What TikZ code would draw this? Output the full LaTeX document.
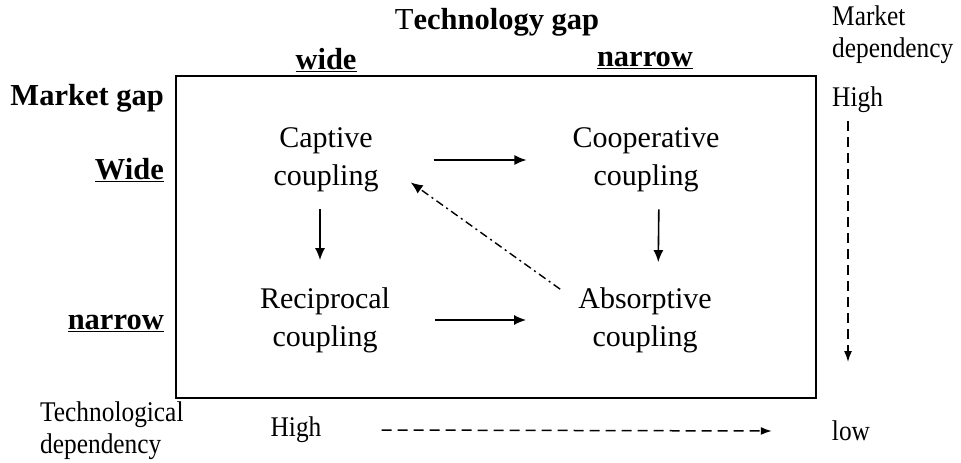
\documentclass[tikz,border=0pt]{standalone}
\usepackage{fontspec}
\setmainfont{Liberation Serif}
\newfontfamily\narrowserif[FakeStretch=0.89]{Liberation Serif}
\usetikzlibrary{arrows.meta}
\begin{document}
\begin{tikzpicture}[x=1pt,y=-1pt,
  every node/.style={inner sep=0pt,font=\fontsize{30}{38}\selectfont},
  cell/.style={align=center},
  head/.style={font=\fontsize{30.5}{38}\selectfont\bfseries},
  lbl/.style={align=left,font=\narrowserif\fontsize{28.5}{32}\selectfont},
  flow/.style={line width=1.6pt,-{Latex[length=12pt,width=10pt]}},
  trend/.style={line width=1.5pt,dash pattern=on 10pt off 6pt,-{Latex[length=11pt,width=8pt]}},
  back/.style={line width=1.4pt,dash pattern=on 8pt off 4pt on 2pt off 4pt,-{Latex[length=12pt,width=10pt]}}]
\useasboundingbox (0,0) rectangle (961,463);

% frame of the matrix
\draw[line width=2pt] (176,76) rectangle (816,398);

% column and row headings
\node[head] (tg) at (497,22) {\mdseries T\bfseries echnology gap};
\node[head] (cw) at (326,60) {\underline{wide}};
\node[head] (cn) at (645,60) {\underline{narrow}};
\node[head,anchor=east] (mg) at (164,98) {Market gap};
\node[head,anchor=east] (rw) at (164,170) {\underline{Wide}};
\node[head,anchor=east] (rn) at (164,323) {\underline{narrow}};

% the four coupling types
\node[cell] (cap) at (326,160) {Captive\\coupling};
\node[cell] (coop) at (646,160) {Cooperative\\coupling};
\node[cell] (rec) at (325,320) {Reciprocal\\coupling};
\node[cell] (abs) at (645,320) {Absorptive\\coupling};

% transitions between them
\draw[flow,shorten <=55pt,shorten >=46pt] (cap.east) -- (coop.west);
\draw[flow,shorten <=45pt,shorten >=52pt] (rec.east) -- (abs.west);
\draw[flow,shorten <=17pt,shorten >=27pt] ([xshift=-6pt]cap.south) -- ([xshift=-5pt]rec.north);
\draw[flow,shorten <=17pt,shorten >=25pt] ([xshift=13pt]coop.south) -- ([xshift=13pt]abs.north);
\draw[back] ([xshift=-18pt,yshift=-2pt]abs.north west) -- ([shift={(32pt,10pt)}]cap.south east);

% market dependency scale
\node[lbl,anchor=west] (md) at (832,35) {Market\\dependency};
\node[lbl,anchor=west] (mh) at (832,100) {High};
\coordinate (ml) at (848,362);
\draw[trend] ([xshift=16pt,yshift=-8pt]mh.south west) -- (ml);

% technological dependency scale
\node[lbl,anchor=west] (td) at (40,431) {Technological\\dependency};
\node[lbl] (th) at (296,430) {High};
\node[lbl] (tl) at (851,431) {low};
\draw[trend] ([xshift=60pt]th.east) -- ([xshift=-60pt]tl.west);
\end{tikzpicture}
\end{document}
